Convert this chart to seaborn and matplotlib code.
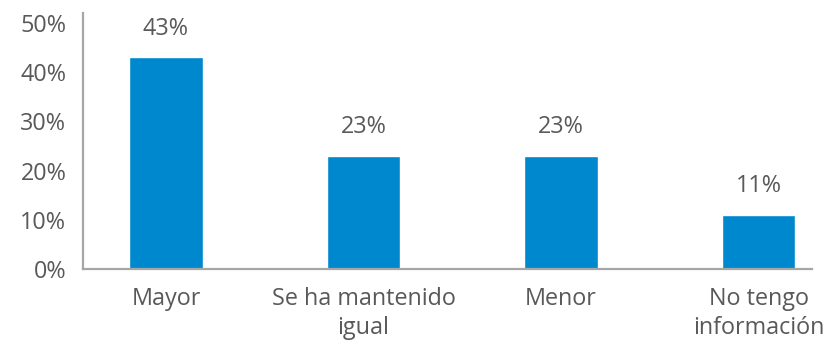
import matplotlib
matplotlib.use("Agg")
import matplotlib.pyplot as plt
import seaborn as sns
import pandas as pd
from matplotlib.ticker import PercentFormatter

categories = ["Mayor", "Se ha mantenido\nigual", "Menor", "No tengo\ninformación"]
values = [0.43, 0.23, 0.23, 0.11]
y_ticks = [0.0, 0.1, 0.2, 0.3, 0.4, 0.5]

sns.set_theme(style="white")
plt.rcParams["font.family"] = ["Open Sans", "DejaVu Sans"]

text_color = "#595959"
bar_color = "#0088CE"
spine_color = "#A6A6A6"
font_size = 16.8

df = pd.DataFrame({"categoria": categories, "valor": values})

fig = plt.figure(figsize=(8.32, 3.43), dpi=100)
ax = fig.add_axes([0.0998, 0.2157, 0.876, 0.746])

sns.barplot(data=df, x="categoria", y="valor", color=bar_color,
            width=0.37, saturation=1, ax=ax)

ax.set_ylim(0, 0.52)
ax.set_xlim(-0.42, 3.27)
ax.set_yticks(y_ticks)
ax.yaxis.set_major_formatter(PercentFormatter(1.0, decimals=0))
ax.set_xlabel("")
ax.set_ylabel("")

for side in ["top", "right"]:
    ax.spines[side].set_visible(False)
for side in ["left", "bottom"]:
    ax.spines[side].set_color(spine_color)
    ax.spines[side].set_linewidth(1.6)

ax.tick_params(axis="both", length=0, labelsize=font_size, colors=text_color)
ax.tick_params(axis="y", pad=12)
ax.tick_params(axis="x", pad=13)
for lbl in ax.get_xticklabels():
    lbl.set_linespacing(1.3)

for i, v in enumerate(values):
    ax.annotate(f"{round(v * 100)}%", xy=(i, v), xytext=(0, 12),
                textcoords="offset points", ha="center", va="bottom",
                fontsize=font_size, color=text_color)

fig.savefig("out.png", dpi=100)
